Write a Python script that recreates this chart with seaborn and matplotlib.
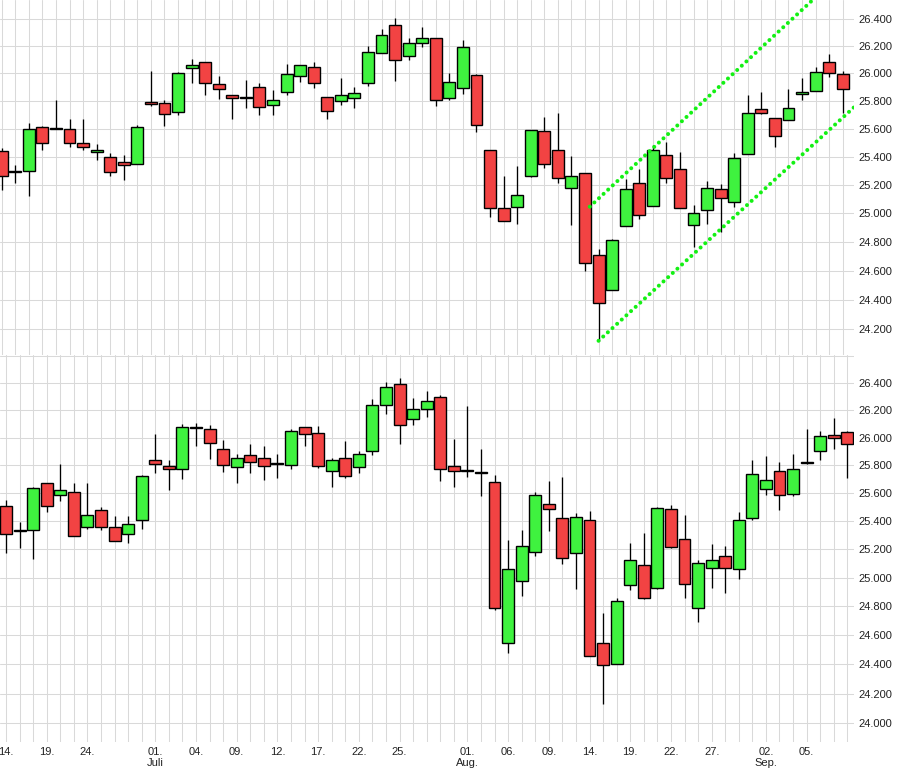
import numpy as np
import pandas as pd
import matplotlib
matplotlib.use("Agg")
import matplotlib.pyplot as plt
import seaborn as sns
from matplotlib.ticker import FixedLocator, NullLocator, FuncFormatter, NullFormatter

# Handelstage (63 Kerzen, 14.06. - 10.09.2024)
dates = pd.bdate_range("2024-06-14", periods=63)

# oberes Chart (mit Trendkanal)
top_open = [25440, 25290, 25300, 25610, 25600, 25600, 25500, 25430, 25395, 25360,
            25350, 25790, 25785, 25720, 26040, 26080, 25920, 25840, 25820, 25900,
            25770, 25865, 25980, 26050, 25830, 25800, 25820, 25930, 26150, 26355,
            26125, 26220, 26260, 25820, 25890, 25985, 25445, 25035, 25040, 25265,
            25580, 25450, 25180, 25280, 24705, 24465, 24910, 25210, 25050, 25410,
            25315, 24920, 25020, 25170, 25075, 25415, 25740, 25675, 25660, 25850,
            25875, 26080, 25995]
top_high = [25460, 25340, 25640, 25620, 25810, 25670, 25670, 25490, 25425, 25410,
            25625, 26020, 25805, 26010, 26105, 26080, 25980, 25840, 25950, 25930,
            25880, 26070, 26060, 26085, 25830, 25965, 25900, 26200, 26325, 26405,
            26260, 26340, 26260, 26005, 26245, 25995, 25445, 25260, 25335, 25590,
            25685, 25710, 25405, 25280, 24750, 24820, 25240, 25310, 25480, 25505,
            25430, 25055, 25225, 25205, 25425, 25840, 25865, 25675, 25885, 25965,
            26045, 26140, 26020]
top_low = [25160, 25210, 25120, 25450, 25600, 25470, 25450, 25375, 25265, 25235,
           25350, 25765, 25620, 25700, 25930, 25845, 25815, 25670, 25745, 25695,
           25700, 25845, 25940, 25895, 25670, 25770, 25745, 25910, 26150, 25945,
           26095, 26190, 25765, 25810, 25850, 25575, 24970, 24945, 24925, 25255,
           25320, 25215, 24920, 24600, 24120, 24465, 24910, 24960, 25050, 25215,
           25035, 24765, 24925, 24870, 25040, 25415, 25705, 25470, 25660, 25810,
           25875, 25970, 25710]
top_close = [25260, 25300, 25600, 25500, 25600, 25500, 25465, 25445, 25290, 25340,
             25615, 25775, 25705, 26005, 26060, 25930, 25885, 25820, 25820, 25755,
             25810, 25995, 26060, 25930, 25730, 25840, 25855, 26155, 26285, 26095,
             26220, 26260, 25805, 25935, 26190, 25625, 25035, 24945, 25125, 25590,
             25350, 25245, 25260, 24655, 24380, 24810, 25170, 24985, 25450, 25245,
             25035, 25000, 25180, 25105, 25390, 25715, 25710, 25550, 25745, 25865,
             26010, 26000, 25885]

# unteres Chart
bot_open = [25505, 25325, 25335, 25670, 25585, 25610, 25355, 25475, 25360, 25305,
            25410, 25835, 25790, 25770, 26070, 26060, 25920, 25785, 25870, 25855,
            25810, 25800, 26075, 26030, 25760, 25850, 25785, 25905, 26240, 26390,
            26135, 26210, 26300, 25790, 25760, 25740, 25675, 24545, 24975, 25180,
            25520, 25420, 25175, 25410, 24545, 24405, 24945, 25090, 24930, 25485,
            25270, 24790, 25070, 25155, 25060, 25420, 25625, 25760, 25590, 25825,
            25900, 26015, 26040]
bot_high = [25550, 25390, 25645, 25670, 25810, 25670, 25670, 25500, 25435, 25435,
            25730, 26025, 25840, 26100, 26105, 26090, 25980, 25880, 25950, 25940,
            25880, 26065, 26075, 26085, 25850, 25975, 25905, 26280, 26405, 26435,
            26290, 26340, 26315, 25990, 26230, 25915, 25730, 25265, 25335, 25605,
            25685, 25715, 25455, 25470, 24755, 24855, 25245, 25315, 25500, 25510,
            25440, 25125, 25235, 25220, 25460, 25840, 25865, 25825, 25880, 26065,
            26045, 26140, 26045]
bot_low = [25175, 25210, 25130, 25460, 25545, 25290, 25340, 25335, 25260, 25240,
           25345, 25745, 25620, 25700, 25935, 25845, 25750, 25670, 25745, 25695,
           25705, 25775, 25940, 25780, 25645, 25710, 25745, 25875, 26175, 25950,
           26095, 26150, 25685, 25640, 25715, 25580, 24775, 24480, 24870, 25150,
           25325, 25095, 24920, 24455, 24130, 24400, 24915, 24850, 24920, 25210,
           24860, 24690, 24930, 24895, 24990, 25405, 25585, 25480, 25575, 25805,
           25835, 25920, 25710]
bot_close = [25310, 25325, 25635, 25505, 25620, 25290, 25440, 25355, 25260, 25375,
             25720, 25810, 25775, 26080, 26070, 25960, 25800, 25855, 25825, 25790,
             25810, 26050, 26025, 25790, 25835, 25725, 25880, 26235, 26370, 26095,
             26210, 26270, 25775, 25760, 25760, 25740, 24785, 25060, 25225, 25585,
             25485, 25135, 25425, 24455, 24395, 24840, 25120, 24860, 25490, 25215,
             24955, 25105, 25120, 25065, 25405, 25735, 25690, 25585, 25775, 25815,
             26010, 26000, 25950]

# Trendkanal im oberen Chart (Kerzen-Index, Kurs)
channel_upper_x = [43.35, 62.9]
channel_upper_y = [25045, 26835]
channel_lower_x = [44.0, 62.9]
channel_lower_y = [24120, 25760]

tick_dates = ["2024-06-14", "2024-06-19", "2024-06-24", "2024-07-01", "2024-07-04",
              "2024-07-09", "2024-07-12", "2024-07-17", "2024-07-22", "2024-07-25",
              "2024-08-01", "2024-08-06", "2024-08-09", "2024-08-14", "2024-08-19",
              "2024-08-22", "2024-08-27", "2024-09-02", "2024-09-05"]
month_names = {7: "Juli", 8: "Aug.", 9: "Sep."}
price_ticks = [24000, 24200, 24400, 24600, 24800, 25000, 25200, 25400,
               25600, 25800, 26000, 26200, 26400, 26600]

GREEN = "#3ff23f"
RED = "#f24343"
GRID = "#d9d9d9"
CHANNEL = "#14f014"

sns.set_theme(style="whitegrid")
plt.rcParams["font.family"] = ["Liberation Sans", "DejaVu Sans"]


def draw_candles(ax, o, h, l, c):
    o, h, l, c = map(np.asarray, (o, h, l, c))
    x = np.arange(len(o))
    colors = np.where(c >= o, GREEN, RED)
    # Doji-Kerzen mindestens ~1 px hoch, damit sie als dicker Strich erscheinen
    height = np.maximum(np.abs(c - o), 7)
    ax.vlines(x, l, h, color="black", lw=0.95, zorder=2)
    ax.bar(x, height, bottom=np.minimum(o, c), width=0.88,
           color=colors, edgecolor="black", linewidth=1.0, zorder=3)


def price_label(v, pos):
    if v > 26500:
        return ""
    return f"{v:,.0f}".replace(",", ".")


def style_axis(ax, ylim, xlim):
    ax.set_yscale("log")
    ax.set_ylim(*ylim)
    ax.set_xlim(*xlim)
    ax.yaxis.set_major_locator(FixedLocator(price_ticks))
    ax.yaxis.set_minor_locator(NullLocator())
    ax.yaxis.set_major_formatter(FuncFormatter(price_label))
    ax.yaxis.set_minor_formatter(NullFormatter())
    ax.yaxis.tick_right()
    ax.xaxis.set_minor_locator(FixedLocator(np.arange(len(dates))))
    ax.tick_params(axis="y", length=0, pad=3, labelsize=8, labelcolor="#222222")
    ax.tick_params(axis="x", which="both", length=3, color=GRID, width=0.75,
                   pad=0.5, labelsize=8, labelcolor="#222222")
    ax.grid(True, which="major", axis="both", color=GRID, lw=0.75)
    ax.grid(True, which="minor", axis="x", color=GRID, lw=0.75)
    ax.set_axisbelow(True)
    for s in ax.spines.values():
        s.set_visible(False)
    ax.set_facecolor("white")


fig = plt.figure(figsize=(8.97, 7.72), dpi=100)
ax_top = fig.add_axes([0, 0.54016, 0.95206, 0.45984])
ax_bot = fig.add_axes([0, 0.03886, 0.95206, 0.50130])

draw_candles(ax_top, top_open, top_high, top_low, top_close)
draw_candles(ax_bot, bot_open, bot_high, bot_low, bot_close)

for cx, cy in [(channel_upper_x, channel_upper_y), (channel_lower_x, channel_lower_y)]:
    sns.lineplot(x=cx, y=cy, ax=ax_top, color=CHANNEL, lw=2.9, sort=False,
                 estimator=None, linestyle=(0, (0.01, 1.55)),
                 dash_capstyle="round", zorder=5)

style_axis(ax_top, (24024, 26541), (-0.125, 62.83))
style_axis(ax_bot, (23875, 26608), (-0.442, 62.49))

# Datumsbeschriftung nur unten
pos = [dates.get_loc(pd.Timestamp(d)) for d in tick_dates]
labels = []
for d in tick_dates:
    t = pd.Timestamp(d)
    lab = t.strftime("%d.")
    if t.day <= 2 and t.month in month_names and d != tick_dates[0]:
        lab += "\n" + month_names[t.month]
    labels.append(lab)
ax_bot.xaxis.set_major_locator(FixedLocator(pos))
ax_bot.set_xticklabels(labels)
ax_top.xaxis.set_major_locator(FixedLocator(pos))
ax_top.set_xticklabels([])
ax_top.tick_params(axis="x", which="both", length=0)
ax_bot.set_xlabel("")
ax_bot.set_ylabel("")
ax_top.set_xlabel("")
ax_top.set_ylabel("")

fig.savefig("out.png", dpi=100)
